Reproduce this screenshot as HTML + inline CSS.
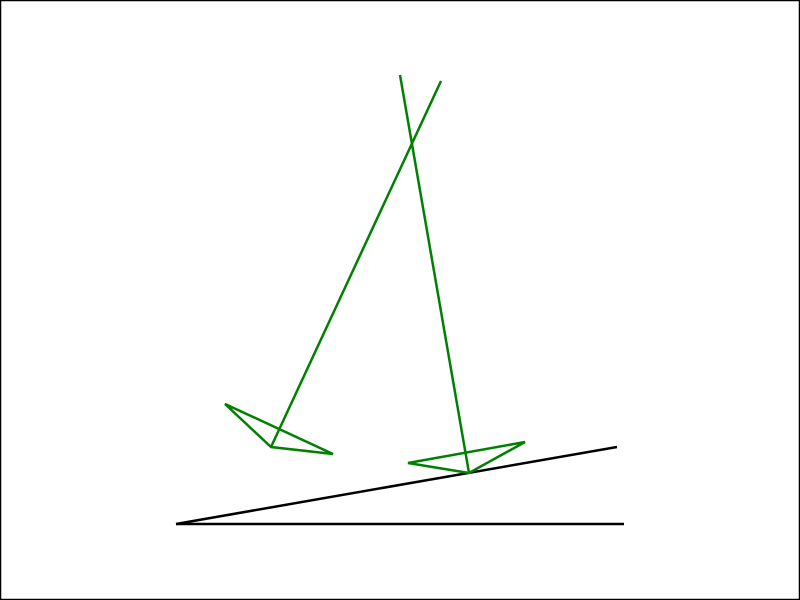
<!DOCTYPE html>
<html>
<head>
<meta charset="utf-8">
<style>
html,body{margin:0;padding:0;background:#fff;}
svg{display:block;}
</style>
</head>
<body>
<svg id="chart" width="800" height="600" viewBox="0 0 800 600" xmlns="http://www.w3.org/2000/svg">
<rect x="0.5" y="0.5" width="799" height="599" fill="#fff" stroke="#000" stroke-width="1.5"/>
<g id="marks"></g>
</svg>
<script>
const groundLine = [[176,524],[624,524]];
const slopeLine = [[176,524],[617,447]];
const stick1 = [[441,81],[271,447]];
const tri1 = [[271,447],[225,404],[333,454]];
const stick2 = [[400,75],[469,473]];
const tri2 = [[469,473],[408,463],[525,442]];

const NS = 'http://www.w3.org/2000/svg';
const g = document.getElementById('marks');
function pts(a){return a.map(p=>p.join(',')).join(' ');}
function draw(tag, arr, color, name){
  const el = document.createElementNS(NS, tag);
  el.setAttribute('points', pts(arr));
  el.setAttribute('fill', 'none');
  el.setAttribute('stroke', color);
  el.setAttribute('stroke-width', '2.5');
  
  
  g.appendChild(el);
}
draw('polyline', groundLine, '#000', 'ground-line');
draw('polyline', slopeLine, '#000', 'slope-line');
draw('polyline', stick1, '#008000', 'left-pole');
draw('polygon', tri1, '#008000', 'left-foot-triangle');
draw('polyline', stick2, '#008000', 'right-pole');
draw('polygon', tri2, '#008000', 'right-foot-triangle');
</script>
</body>
</html>
